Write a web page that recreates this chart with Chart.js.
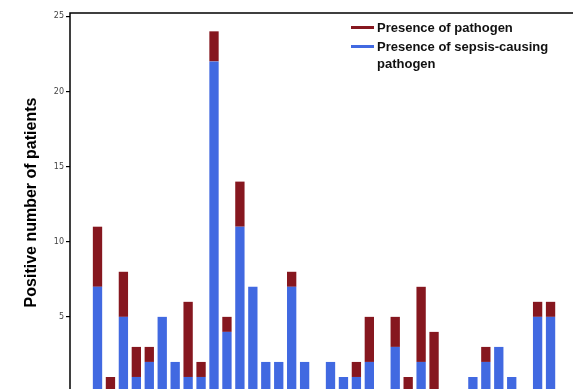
<!DOCTYPE html>
<html>
<head>
<meta charset="utf-8">
<script src="https://cdn.jsdelivr.net/npm/chart.js@4/dist/chart.umd.min.js"></script>
<style>
  html, body { margin: 0; padding: 0; background: #fff; overflow: hidden; }
  #wrap { position: relative; width: 573px; height: 389px; overflow: hidden; }
  #box { position: absolute; left: 0; top: 0; width: 600px; height: 420px; }
  #legend { position: absolute; left: 351px; top: 19px; width: 200px;
    font: bold 13px "Liberation Sans", Arial, sans-serif; color: #111; line-height: 17px; }
  .item { position: relative; padding-left: 26px; margin-bottom: 2px; }
  .item span { position: absolute; left: 0; top: 7px; width: 23px; height: 3px; }
</style>
</head>
<body>
<div id="wrap">
  <div id="box"><canvas id="grafica"></canvas></div>
  <div id="legend">
    <div class="item"><span style="background:#86171f"></span>Presence of pathogen</div>
    <div class="item"><span style="background:#4169e1"></span>Presence of sepsis-causing pathogen</div>
  </div>
</div>
<script>
// posiciones de las barras (1..36) y valores
var posiciones = [];
for (var i = 1; i <= 36; i++) posiciones.push(i);

// total de pacientes con patogeno
var totalPatogeno = [11, 1, 8, 3, 3, 5, 2, 6, 2, 24, 5, 14, 7, 2, 2, 8, 2, 0,
                     2, 1, 2, 5, 0, 5, 1, 7, 4, 0, 0, 1, 3, 3, 1, 0, 6, 6];
// pacientes con patogeno causante de sepsis
var sepsis = [7, 0, 5, 1, 2, 5, 2, 1, 1, 22, 4, 11, 7, 2, 2, 7, 2, 0,
              2, 1, 1, 2, 0, 3, 0, 2, 0, 0, 0, 1, 2, 3, 1, 0, 5, 5];
// el 0 queda fuera del recorte
var ticksY = [5, 10, 15, 20, 25];

var datosAzul = posiciones.map(function (p, i) { return { x: p, y: sepsis[i] }; });
var datosRojo = posiciones.map(function (p, i) { return { x: p, y: totalPatogeno[i] - sepsis[i] }; });

// marco del area de la grafica
var marco = {
    id: 'marco',
    afterDatasetsDraw: function (chart) {
        var a = chart.chartArea, c = chart.ctx;
        c.save();
        c.strokeStyle = '#000';
        c.lineWidth = 1.5;
        c.strokeRect(a.left, a.top, a.right - a.left, a.bottom - a.top);
        c.restore();
    }
};

var ctx = document.getElementById('grafica').getContext('2d');
var grafica = new Chart(ctx, {
    type: 'bar',
    data: {
        datasets: [{
            label: 'Presence of sepsis-causing pathogen',
            data: datosAzul,
            backgroundColor: '#4169e1',
            barPercentage: 0.72,
            categoryPercentage: 1
        }, {
            label: 'Presence of pathogen',
            data: datosRojo,
            backgroundColor: '#86171f',
            barPercentage: 0.72,
            categoryPercentage: 1
        }]
    },
    options: {
        responsive: true,
        maintainAspectRatio: false,
        animation: false,
        layout: { padding: { top: 13, right: 0, bottom: 28, left: 0 } },
        plugins: { legend: { display: false }, tooltip: { enabled: false } },
        scales: {
            x: {
                type: 'linear',
                stacked: true,
                display: false,
                offset: false,
                min: -1.125,
                max: 39.82
            },
            y: {
                stacked: true,
                min: 0,
                max: 25.22,
                afterBuildTicks: function (s) { s.ticks = ticksY.map(function (v) { return { value: v }; }); },
                afterFit: function (s) { s.width = 70; },
                ticks: { color: '#444', font: { family: 'DejaVu Sans', size: 8 }, padding: 2 },
                grid: { drawOnChartArea: false, drawTicks: true, tickLength: 4, color: '#000', lineWidth: 1.2 },
                border: { display: false },
                title: {
                    display: true,
                    text: 'Positive number of patients',
                    color: '#000',
                    font: { family: 'Liberation Sans', size: 16, weight: 'bold' },
                    padding: { top: 22, bottom: 0 }
                }
            }
        }
    },
    plugins: [marco]
});
</script>
</body>
</html>
